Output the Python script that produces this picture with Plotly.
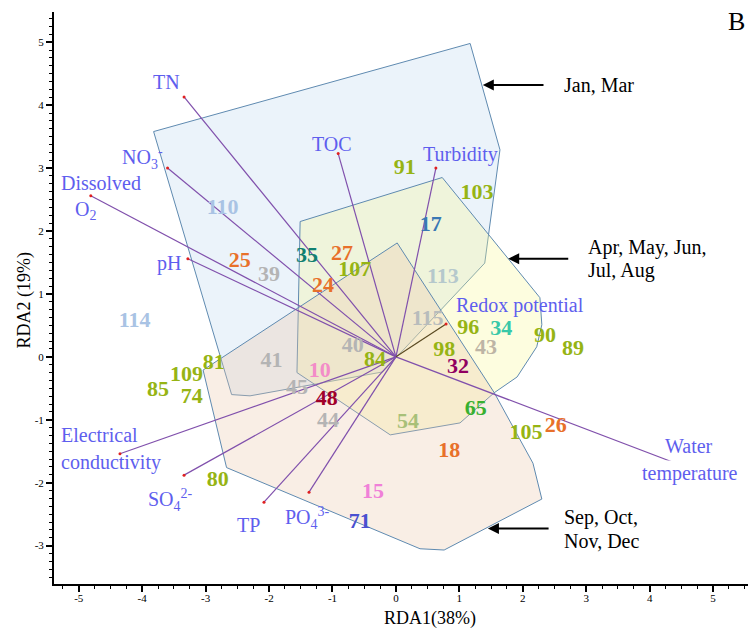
import plotly.graph_objects as go

# ---- sample scores on RDA1 / RDA2 ----
sample_ids = ["91", "103", "17", "110", "25", "39", "35", "27", "107", "24",
              "113", "114", "115", "96", "34", "90", "89", "43", "98", "40",
              "84", "41", "81", "109", "85", "74", "45", "10", "32", "48",
              "44", "54", "65", "105", "26", "18", "80", "15", "71"]
rda1 = [0.14, 1.28, 0.55, -2.73, -2.46, -2.00, -1.40, -0.85, -0.65, -1.15,
        0.74, -4.12, 0.50, 1.14, 1.66, 2.35, 2.79, 1.42, 0.76, -0.68,
        -0.33, -1.96, -2.87, -3.30, -3.75, -3.22, -1.56, -1.20, 0.98, -1.09,
        -1.07, 0.19, 1.26, 2.05, 2.52, 0.84, -2.81, -0.36, -0.57]
rda2 = [3.00, 2.59, 2.08, 2.35, 1.51, 1.30, 1.59, 1.62, 1.38, 1.11,
        1.26, 0.56, 0.59, 0.45, 0.43, 0.32, 0.11, 0.13, 0.10, 0.16,
        -0.06, -0.08, -0.10, -0.29, -0.54, -0.64, -0.51, -0.24, -0.17, -0.68,
        -1.03, -1.05, -0.83, -1.22, -1.10, -1.51, -1.96, -2.16, -2.64]

# ---- environmental variable vectors (tips; all start at the origin) ----
env_names = ["TN", "NO3", "DO", "pH", "TOC", "Turbidity", "Redox",
             "WT", "EC", "SO4", "TP", "PO4"]
env_x = [-3.34, -3.60, -4.81, -3.28, -0.91, 0.63, 0.79, 4.98, -4.35, -3.34, -2.08, -1.37]
env_y = [4.13, 3.00, 2.56, 1.56, 3.23, 3.00, 0.52, -1.91, -1.54, -1.88, -2.31, -2.15]

# ---- seasonal envelopes ----
jan_mar_x = [-3.82, 1.17, 1.64, 1.40, -0.21, -2.30, -2.59]
jan_mar_y = [3.58, 4.98, 3.29, 1.49, -0.24, -0.62, -0.60]
apr_aug_x = [-1.51, 0.73, 2.27, 2.30, 2.22, 1.91, 1.55, 1.01, -0.09, -1.56]
apr_aug_y = [2.15, 2.85, 0.94, 0.51, 0.16, -0.32, -0.57, -1.05, -1.24, -0.25]
sep_dec_x = [0.02, 1.55, 2.16, 2.30, 0.76, 0.38, -2.67, -3.04]
sep_dec_y = [1.81, -0.57, -1.69, -2.26, -3.07, -3.05, -1.76, -0.21]

tick_vals_x = [-5, -4, -3, -2, -1, 0, 1, 2, 3, 4, 5]
tick_vals_y = [-3, -2, -1, 0, 1, 2, 3, 4, 5]

SERIF = "Liberation Serif, Times New Roman, serif"
VAR_COLOR = "#5e5eee"
EDGE = "#5f8ab0"

sample_color = {
    "91": "#96b414", "103": "#96b414", "17": "#3a78b4", "110": "#a9c3e4",
    "25": "#e8702a", "39": "#b4b4b4", "35": "#108070", "27": "#e8702a",
    "107": "#96b414", "24": "#e8702a", "113": "#b5c8cc", "114": "#a9c3e4",
    "115": "#b8bcbc", "96": "#96b414", "34": "#38c8a8", "90": "#96b414",
    "89": "#96b414", "43": "#bdb5a5", "98": "#96b414", "40": "#b4b4b4",
    "84": "#96b414", "41": "#b4b4b4", "81": "#96b414", "109": "#96b414",
    "85": "#96b414", "74": "#96b414", "45": "#b4b4b4", "10": "#f38cc8",
    "32": "#900060", "48": "#a00028", "44": "#b4b4b4", "54": "#a8c078",
    "65": "#38b030", "105": "#96b414", "26": "#e8702a", "18": "#e8702a",
    "80": "#96b414", "15": "#f080d8", "71": "#4a50d0",
}

fig = go.Figure()

# envelopes (semi-transparent so overlaps blend)
for xs, ys, fc in [(jan_mar_x, jan_mar_y, "rgba(190,215,240,0.30)"),
                   (apr_aug_x, apr_aug_y, "rgba(250,250,150,0.30)"),
                   (sep_dec_x, sep_dec_y, "rgba(235,200,170,0.30)")]:
    fig.add_trace(go.Scatter(x=xs + xs[:1], y=ys + ys[:1], mode="lines",
                             fill="toself", fillcolor=fc,
                             line=dict(color=EDGE, width=1.0),
                             hoverinfo="skip", showlegend=False))

# vectors from the origin
vx, vy = [], []
for name, x, y in zip(env_names, env_x, env_y):
    if name == "Redox":
        continue
    vx += [0, x, None]
    vy += [0, y, None]
fig.add_trace(go.Scatter(x=vx, y=vy, mode="lines",
                         line=dict(color="#8050ac", width=1.2),
                         hoverinfo="skip", showlegend=False))
ri = env_names.index("Redox")
fig.add_trace(go.Scatter(x=[0, env_x[ri]], y=[0, env_y[ri]], mode="lines",
                         line=dict(color="#5a4a22", width=1.2),
                         hoverinfo="skip", showlegend=False))
fig.add_trace(go.Scatter(x=env_x, y=env_y, mode="markers",
                         marker=dict(color="#e02020", size=3),
                         hoverinfo="skip", showlegend=False))

# sample labels
fig.add_trace(go.Scatter(x=rda1, y=rda2, mode="text", text=sample_ids,
                         textposition="middle center",
                         textfont=dict(family=SERIF, size=22, weight="bold",
                                       color=[sample_color[s] for s in sample_ids]),
                         hoverinfo="skip", showlegend=False))

# variable label text, offset from each vector tip (data units)
var_labels = {
    "TN": [("TN", -0.28, 0.24)],
    "NO3": [("NO<sub>3</sub><sup>-</sup>", -0.40, 0.16)],
    "DO": [("Dissolved", 0.16, 0.21), ("O<sub>2</sub>", -0.08, -0.24)],
    "pH": [("pH", -0.30, -0.08)],
    "TOC": [("TOC", -0.09, 0.16)],
    "Turbidity": [("Turbidity", 0.38, 0.21)],
    "Redox": [("Redox potential", 1.17, 0.29)],
    "WT": [("Water", -0.36, 0.49), ("temperature", -0.35, 0.06)],
    "EC": [("Electrical", -0.32, 0.29), ("conductivity", -0.14, -0.14)],
    "SO4": [("SO<sub>4</sub><sup>2-</sup>", -0.22, -0.40)],
    "TP": [("TP", -0.25, -0.37)],
    "PO4": [("PO<sub>4</sub><sup>3-</sup>", -0.03, -0.41)],
}
annotations = []
for name, x, y in zip(env_names, env_x, env_y):
    for txt, dx, dy in var_labels[name]:
        ann = dict(x=x + dx, y=y + dy, xref="x", yref="y", text=txt,
                   showarrow=False, xanchor="center", yanchor="middle",
                   font=dict(family=SERIF, size=20, color=VAR_COLOR))
        if txt == "temperature":
            ann["bgcolor"] = "white"
        annotations.append(ann)

# season call-outs with arrows
callouts = [
    (1.37, 2.35, 4.32, ["Jan, Mar"], 2.62),
    (1.77, 2.74, 1.56, ["Apr, May, Jun,", "Jul, Aug"], 3.00),
    (1.45, 2.43, -2.73, ["Sep, Oct,", "Nov, Dec"], 2.62),
]
for tip, tail, yy, lines, tx in callouts:
    annotations.append(dict(x=tip, y=yy, ax=tail, ay=yy, xref="x", yref="y",
                            axref="x", ayref="y", text="", showarrow=True,
                            arrowhead=2, arrowsize=1.1, arrowwidth=2,
                            arrowcolor="black"))
    n = len(lines)
    for k, line in enumerate(lines):
        off = (0.18 - 0.37 * k) if n == 2 else 0.0
        annotations.append(dict(x=tx, y=yy + off, xref="x", yref="y", text=line,
                                showarrow=False, xanchor="left", yanchor="middle",
                                font=dict(family=SERIF, size=20, color="black")))

annotations += [
    dict(x=0.984, y=0.984, xref="paper", yref="paper", text="B", showarrow=False,
         xanchor="center", yanchor="middle",
         font=dict(family=SERIF, size=26, color="black")),
    dict(x=0.542, y=-0.060, xref="paper", yref="paper", text="RDA1(38%)",
         showarrow=False, xanchor="center", yanchor="middle",
         font=dict(family=SERIF, size=18, color="black")),
    dict(x=-0.042, y=0.497, xref="paper", yref="paper", text="RDA2 (19%)",
         showarrow=False, xanchor="center", yanchor="middle", textangle=-90,
         font=dict(family=SERIF, size=18, color="black")),
]

fig.update_layout(
    width=748, height=630,
    margin=dict(l=54, r=0, t=12, b=46),
    paper_bgcolor="white", plot_bgcolor="white",
    annotations=annotations,
    showlegend=False,
    xaxis=dict(range=[-5.39, 5.55], showgrid=False, zeroline=False,
               showline=True, linecolor="black", linewidth=2,
               ticks="outside", ticklen=6, tickwidth=1.5, tickcolor="black",
               tickmode="array", tickvals=tick_vals_x,
               ticktext=[str(v) for v in tick_vals_x],
               ticklabelstandoff=-3,
               tickfont=dict(family=SERIF, size=11, color="black"),
               minor=dict(tickmode="linear", tick0=0, dtick=0.25, ticks="outside",
                          ticklen=3, tickwidth=1, tickcolor="black", showgrid=False)),
    yaxis=dict(range=[-3.61, 5.48], showgrid=False, zeroline=False,
               showline=True, linecolor="black", linewidth=2,
               ticks="outside", ticklen=6, tickwidth=1.5, tickcolor="black",
               tickmode="array", tickvals=tick_vals_y,
               ticktext=[str(v) for v in tick_vals_y],
               tickfont=dict(family=SERIF, size=11, color="black"),
               minor=dict(tickmode="linear", tick0=0, dtick=0.125, ticks="outside",
                          ticklen=3, tickwidth=1, tickcolor="black", showgrid=False)),
)

fig.write_html("out.html")
